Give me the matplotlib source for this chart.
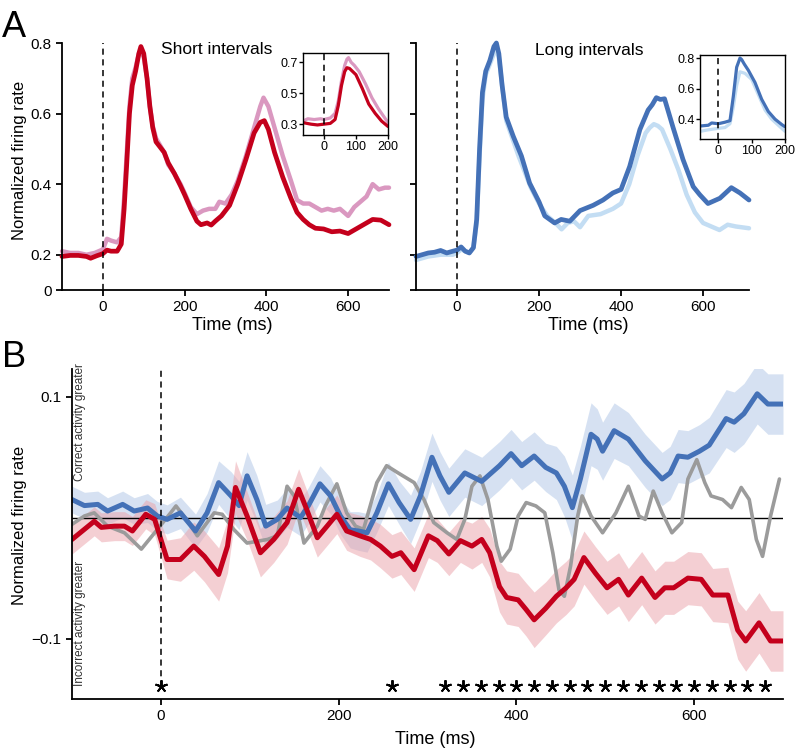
import numpy as np
import matplotlib
matplotlib.use('Agg')
from matplotlib import pyplot as plt

plt.rcParams['font.family'] = ['Liberation Sans', 'DejaVu Sans']
plt.rcParams['lines.solid_joinstyle'] = 'round'
plt.rcParams['lines.solid_capstyle'] = 'round'

# ---- panel A, short intervals ----
short_red_t = [-100, -80, -60, -40, -30, -15, 0, 10, 20, 35, 45, 52, 58, 65, 72, 80, 88, 93, 100, 108,
               115, 122, 130, 140, 150, 160, 175, 190, 200, 215, 230, 240, 255, 265, 275, 290, 310, 330,
               350, 370, 385, 395, 405, 420, 440, 460, 475, 490, 505, 520, 540, 560, 580, 600, 615, 630,
               645, 660, 680, 700]
short_red_v = [0.195, 0.198, 0.198, 0.195, 0.19, 0.197, 0.203, 0.213, 0.21, 0.21, 0.23, 0.33, 0.45, 0.60,
               0.68, 0.72, 0.77, 0.79, 0.77, 0.70, 0.62, 0.56, 0.52, 0.505, 0.49, 0.46, 0.43, 0.395, 0.37,
               0.33, 0.295, 0.285, 0.29, 0.284, 0.295, 0.31, 0.34, 0.40, 0.47, 0.545, 0.575, 0.58, 0.555,
               0.49, 0.42, 0.36, 0.32, 0.30, 0.285, 0.275, 0.273, 0.265, 0.267, 0.26, 0.27, 0.28, 0.29,
               0.30, 0.298, 0.285]
short_pink_t = [-100, -80, -60, -40, -20, 0, 10, 20, 35, 45, 52, 58, 65, 72, 80, 88, 93, 100, 108, 115,
                122, 130, 140, 150, 160, 175, 190, 200, 215, 230, 245, 260, 275, 285, 300, 315, 330, 350,
                370, 385, 393, 405, 420, 440, 460, 475, 490, 505, 520, 535, 550, 565, 580, 600, 615, 630,
                645, 660, 675, 690, 700]
short_pink_v = [0.21, 0.205, 0.205, 0.20, 0.205, 0.215, 0.245, 0.24, 0.235, 0.25, 0.36, 0.48, 0.62, 0.70,
                0.73, 0.77, 0.78, 0.76, 0.70, 0.62, 0.565, 0.53, 0.51, 0.49, 0.455, 0.43, 0.40, 0.375,
                0.335, 0.315, 0.325, 0.33, 0.33, 0.35, 0.345, 0.37, 0.41, 0.48, 0.56, 0.62, 0.645, 0.62,
                0.56, 0.48, 0.41, 0.355, 0.345, 0.345, 0.335, 0.325, 0.33, 0.325, 0.33, 0.31, 0.335,
                0.35, 0.365, 0.40, 0.385, 0.39, 0.39]

# ---- panel A, long intervals ----
long_blue_t = [-100, -85, -70, -55, -40, -25, -10, 0, 10, 20, 30, 40, 48, 55, 62, 70, 80, 90, 96, 102,
               110, 120, 137, 157, 177, 200, 214, 238, 254, 275, 300, 332, 356, 380, 400, 421, 446, 466,
               476, 486, 496, 506, 527, 551, 576, 592, 612, 641, 669, 690, 712]
long_blue_v = [0.195, 0.20, 0.205, 0.207, 0.212, 0.205, 0.21, 0.213, 0.222, 0.21, 0.205, 0.22, 0.30, 0.50,
               0.66, 0.72, 0.75, 0.79, 0.80, 0.77, 0.68, 0.59, 0.536, 0.48, 0.403, 0.35, 0.31, 0.29, 0.30,
               0.295, 0.325, 0.34, 0.355, 0.375, 0.385, 0.45, 0.555, 0.61, 0.625, 0.645, 0.64, 0.642,
               0.56, 0.47, 0.393, 0.37, 0.345, 0.36, 0.39, 0.375, 0.355]
long_light_t = [-100, -70, -40, -10, 0, 10, 20, 30, 40, 48, 55, 62, 70, 80, 90, 96, 102, 110, 120, 150,
                180, 200, 220, 240, 255, 270, 285, 300, 320, 350, 380, 400, 420, 440, 460, 470, 480, 490,
                500, 520, 540, 560, 580, 600, 620, 640, 660, 680, 712]
long_light_v = [0.185, 0.195, 0.20, 0.20, 0.205, 0.215, 0.21, 0.205, 0.22, 0.29, 0.48, 0.64, 0.71, 0.74,
                0.77, 0.78, 0.76, 0.68, 0.58, 0.48, 0.39, 0.345, 0.31, 0.29, 0.272, 0.29, 0.295, 0.278,
                0.31, 0.315, 0.33, 0.345, 0.40, 0.48, 0.545, 0.56, 0.57, 0.565, 0.555, 0.50, 0.44, 0.37,
                0.32, 0.29, 0.28, 0.27, 0.285, 0.28, 0.275]

# ---- insets ----
in_short_red_t = [-65, -40, -20, 0, 20, 35, 45, 55, 65, 72, 80, 90, 100, 120, 140, 160, 180, 200]
in_short_red_v = [0.31, 0.30, 0.295, 0.30, 0.305, 0.33, 0.42, 0.55, 0.64, 0.665, 0.66, 0.64, 0.62, 0.53,
                  0.43, 0.37, 0.32, 0.285]
in_short_pink_t = [-65, -50, -30, -10, 0, 20, 35, 45, 55, 65, 72, 77, 85, 95, 110, 130, 150, 170, 190, 200]
in_short_pink_v = [0.32, 0.335, 0.33, 0.335, 0.33, 0.34, 0.37, 0.45, 0.58, 0.68, 0.72, 0.73, 0.70, 0.68,
                   0.64, 0.56, 0.47, 0.40, 0.34, 0.31]
in_long_blue_t = [-55, -30, -20, 0, 20, 35, 45, 55, 65, 70, 78, 90, 110, 130, 150, 170, 190, 200]
in_long_blue_v = [0.355, 0.36, 0.375, 0.37, 0.38, 0.39, 0.55, 0.74, 0.80, 0.79, 0.76, 0.72, 0.64, 0.53,
                  0.45, 0.40, 0.365, 0.35]
in_long_light_t = [-55, -30, 0, 20, 35, 45, 55, 65, 80, 100, 120, 140, 160, 180, 200]
in_long_light_v = [0.32, 0.33, 0.34, 0.345, 0.37, 0.48, 0.62, 0.71, 0.70, 0.66, 0.56, 0.46, 0.40, 0.36, 0.32]

# ---- panel B ----
b_blue_t = [-100, -86, -71, -60, -43, -30, -15, -4, 7, 22, 39, 52, 65, 79, 88, 97, 108, 118, 131, 142,
            157, 166, 179, 191, 202, 213, 222, 232, 243, 256, 268, 281, 292, 305, 314, 324, 342, 361, 381,
            394, 406, 420, 433, 445, 454, 463, 472, 484, 491, 497, 510, 526, 545, 564, 573, 582, 593, 606,
            617, 636, 645, 656, 671, 683, 700]
b_blue_v = [0.015, 0.010, 0.011, 0.0055, 0.011, 0.0055, 0.008, 0.0014, -0.0014, 0.004, -0.011, 0.004,
            0.029, 0.018, 0.010, 0.0346, 0.015, -0.007, -0.0014, 0.008, 0.0, 0.010, 0.028, 0.018, 0.0014,
            -0.010, -0.011, -0.0125, 0.004, 0.028, 0.0125, -0.0014, 0.018, 0.050, 0.0346, 0.021, 0.037,
            0.030, 0.043, 0.053, 0.043, 0.051, 0.0416, 0.037, 0.026, 0.0083, 0.032, 0.069, 0.065, 0.055,
            0.072, 0.065, 0.047, 0.032, 0.037, 0.051, 0.050, 0.055, 0.060, 0.082, 0.079, 0.086, 0.1025,
            0.094, 0.094]
b_blue_sem = [0.011, 0.011, 0.011, 0.011, 0.011, 0.011, 0.012, 0.012, 0.012, 0.013, 0.014, 0.016,
              0.018, 0.02, 0.02, 0.02, 0.02, 0.018, 0.016, 0.016, 0.015, 0.015, 0.015, 0.015, 0.015,
              0.015, 0.016, 0.016, 0.016, 0.018, 0.018, 0.02, 0.02, 0.02, 0.02, 0.02, 0.02, 0.02, 0.02,
              0.02, 0.02, 0.02, 0.02, 0.022, 0.025, 0.027, 0.027, 0.026, 0.025, 0.024, 0.023, 0.022,
              0.022, 0.022, 0.022, 0.022, 0.022, 0.022, 0.023, 0.024, 0.025, 0.025, 0.025, 0.025, 0.025]
b_red_t = [-100, -75, -67, -52, -41, -32, -17, -7, 0, 7, 22, 37, 49, 65, 75, 84, 97, 112, 127, 142,
           155, 164, 176, 187, 198, 209, 224, 236, 247, 260, 270, 285, 301, 311, 324, 337, 350, 361, 370,
           381, 389, 402, 411, 420, 433, 445, 456, 465, 476, 489, 502, 515, 526, 541, 556, 567, 577, 593,
           608, 621, 638, 649, 658, 673, 686, 700]
b_red_v = [-0.018, -0.003, -0.008, -0.007, -0.007, -0.011, 0.0028, -0.0014, -0.018, -0.0346, -0.0346,
           -0.0235, -0.032, -0.047, -0.0235, 0.025, 0.0014, -0.029, -0.018, -0.004, 0.0235, 0.007,
           -0.0166, -0.007, 0.0028, -0.011, -0.015, -0.018, -0.0235, -0.032, -0.029, -0.043, -0.015,
           -0.019, -0.030, -0.019, -0.0235, -0.018, -0.029, -0.057, -0.066, -0.068, -0.076, -0.0845,
           -0.075, -0.065, -0.058, -0.051, -0.033, -0.046, -0.058, -0.051, -0.064, -0.050, -0.066,
           -0.058, -0.058, -0.050, -0.051, -0.064, -0.064, -0.093, -0.102, -0.087, -0.102, -0.102]
b_red_sem = [0.012, 0.012, 0.012, 0.012, 0.012, 0.012, 0.012, 0.013, 0.014, 0.016, 0.018, 0.02, 0.021,
             0.022, 0.022, 0.022, 0.02, 0.02, 0.019, 0.018, 0.017, 0.016, 0.016, 0.016, 0.016, 0.016,
             0.017, 0.017, 0.018, 0.018, 0.018, 0.018, 0.018, 0.018, 0.018, 0.018, 0.019, 0.019, 0.02,
             0.021, 0.022, 0.022, 0.022, 0.023, 0.022, 0.022, 0.022, 0.022, 0.022, 0.022, 0.022, 0.022,
             0.022, 0.022, 0.022, 0.022, 0.022, 0.022, 0.022, 0.022, 0.023, 0.024, 0.025, 0.025, 0.025,
             0.025]
b_gray_t = [-100, -86, -75, -60, -41, -22, -7, 11, 17, 30, 41, 60, 69, 82, 97, 120, 131, 142, 150, 161,
            176, 185, 198, 209, 219, 228, 243, 254, 267, 285, 296, 307, 322, 333, 342, 350, 359, 368, 378,
            383, 393, 402, 411, 422, 432, 441, 448, 454, 461, 469, 474, 484, 497, 512, 526, 538, 545, 554,
            564, 575, 586, 593, 603, 612, 619, 632, 642, 653, 662, 670, 677, 686, 696]
b_gray_v = [-0.0055, 0.0014, 0.004, -0.007, -0.0125, -0.026, -0.0125, 0.004, 0.0097, -0.0028, -0.015,
            0.004, 0.0028, -0.0097, -0.021, -0.018, -0.015, 0.026, 0.018, -0.021, -0.007, 0.0097, 0.028,
            0.004, -0.007, -0.0097, 0.029, 0.043, 0.037, 0.029, 0.015, -0.004, -0.0125, -0.018, -0.0014,
            0.026, 0.0346, 0.015, -0.0235, -0.036, -0.026, 0.0014, 0.0125, 0.0097, 0.004, -0.029, -0.060,
            -0.065, -0.040, 0.0014, 0.018, 0.0014, -0.0125, 0.004, 0.026, 0.0014, -0.0014, 0.022, 0.004,
            -0.0125, -0.004, 0.032, 0.048, 0.029, 0.018, 0.015, 0.0083, 0.025, 0.015, -0.018, -0.032,
            0.0014, 0.032]
star_t = [0, 260, 320, 340, 360, 380, 400, 420, 440, 460, 480, 500, 520, 540, 560, 580, 600, 620, 640,
          660, 680]
star_y = -0.139

RED = '#C4001C'
PINK = '#DA98C0'
BLUE = '#4471B7'
LBLUE = '#C3DDF3'
GRAY = '#9B9B9B'

W, H = 799, 750
fig = plt.figure(figsize=(W / 100, H / 100), dpi=100)


def rect(x0, y0, x1, y1):
    return [x0 / W, 1 - y1 / H, (x1 - x0) / W, (y1 - y0) / H]


def style_main(ax):
    for s in ['top', 'right']:
        ax.spines[s].set_visible(False)
    for s in ['left', 'bottom']:
        ax.spines[s].set_linewidth(1.3)
    ax.tick_params(direction='out', length=4, width=1.3, labelsize=11)


# top left
ax1 = fig.add_axes(rect(62, 43, 389, 290))
ax1.plot(short_pink_t, short_pink_v, color=PINK, lw=3.2, clip_on=False)
ax1.plot(short_red_t, short_red_v, color=RED, lw=3.4, clip_on=False)
# top right
ax2 = fig.add_axes(rect(416, 43, 749, 290))
ax2.plot(long_light_t, long_light_v, color=LBLUE, lw=3.2, clip_on=False)
ax2.plot(long_blue_t, long_blue_v, color=BLUE, lw=3.4, clip_on=False)

for ax, xmax, lab in [(ax1, 700, True), (ax2, 712, False)]:
    style_main(ax)
    ax.set_xlim(-100, xmax)
    ax.set_ylim(0.1, 0.8)
    ax.set_xticks([0, 200, 400, 600])
    ax.set_yticks([0.1, 0.2, 0.4, 0.6, 0.8])
    if lab:
        ax.set_yticklabels(['0', '0.2', '0.4', '0.6', '0.8'])
    else:
        ax.set_yticklabels([])
    ax.axvline(0, color='k', lw=1.1, ls=(0, (4, 3)))

# insets
ins1 = fig.add_axes(rect(303, 53, 388, 135))
ins1.plot(in_short_pink_t, in_short_pink_v, color=PINK, lw=2.3)
ins1.plot(in_short_red_t, in_short_red_v, color=RED, lw=2.3)
ins1.set_xlim(-65, 200)
ins1.set_ylim(0.23, 0.76)
ins1.set_yticks([0.3, 0.5, 0.7])
ins2 = fig.add_axes(rect(700, 55, 785, 139))
ins2.plot(in_long_light_t, in_long_light_v, color=LBLUE, lw=2.3)
ins2.plot(in_long_blue_t, in_long_blue_v, color=BLUE, lw=2.3)
ins2.set_xlim(-55, 200)
ins2.set_ylim(0.27, 0.82)
ins2.set_yticks([0.4, 0.6, 0.8])
for ins in [ins1, ins2]:
    ins.set_xticks([0, 100, 200])
    ins.axvline(0, color='k', lw=1.1, ls=(0, (4, 3)))
    ins.tick_params(direction='out', length=3, width=1, labelsize=9, pad=1)
    for s in ins.spines.values():
        s.set_linewidth(1)
    ins.set_facecolor('white')

# bottom panel
axb = fig.add_axes(rect(72, 369, 783, 699))
style_main(axb)
bt = np.array(b_blue_t)
bv = np.array(b_blue_v)
bs = np.array(b_blue_sem)
rt = np.array(b_red_t)
rv = np.array(b_red_v)
rs = np.array(b_red_sem)
axb.fill_between(bt, bv - bs, bv + bs, color='#B5CAE8', alpha=0.55, lw=0)
axb.fill_between(rt, rv - rs, rv + rs, color='#EBA0A8', alpha=0.5, lw=0)
axb.axhline(0, color='k', lw=1)
axb.plot(b_gray_t, b_gray_v, color=GRAY, lw=2.6)
axb.plot(b_blue_t, b_blue_v, color=BLUE, lw=3.6)
axb.plot(b_red_t, b_red_v, color=RED, lw=3.6)
axb.plot([0, 0], [-0.14, 0.123], color='k', lw=1.1, ls=(0, (4, 3)), solid_capstyle='butt')
axb.plot(star_t, [star_y] * len(star_t), ls='none', marker=(5, 2, 0), ms=9, mew=1.4, color='k')
axb.set_xlim(-100, 700)
axb.set_ylim(-0.15, 0.123)
axb.set_xticks([0, 200, 400, 600])
axb.set_yticks([-0.1, 0.1])
axb.set_yticklabels(['\u22120.1', '0.1'])

# texts
fig.text(2 / W, 1 - 37 / H, 'A', fontsize=26, va='baseline')
fig.text(2 / W, 1 - 367 / H, 'B', fontsize=26, va='baseline')
fig.text(217 / W, 1 - 50 / H, 'Short intervals', fontsize=12.5, ha='center', va='center')
fig.text(589 / W, 1 - 50 / H, 'Long intervals', fontsize=12.5, ha='center', va='center')
fig.text(20 / W, 1 - 160 / H, 'Normalized firing rate', fontsize=12, rotation=90,
         ha='center', va='center')
fig.text(20 / W, 1 - 525 / H, 'Normalized firing rate', fontsize=12, rotation=90,
         ha='center', va='center')
fig.text(232 / W, 1 - 325 / H, 'Time (ms)', fontsize=13, ha='center', va='center')
fig.text(588 / W, 1 - 325 / H, 'Time (ms)', fontsize=13, ha='center', va='center')
fig.text(435 / W, 1 - 740 / H, 'Time (ms)', fontsize=13, ha='center', va='center')
fig.text(80 / W, 1 - 422 / H, 'Correct activity greater', fontsize=8.5, rotation=90,
         ha='center', va='center', color='#333333')
fig.text(80 / W, 1 - 623 / H, 'Incorrect activity greater', fontsize=8.5, rotation=90,
         ha='center', va='center', color='#333333')

fig.savefig('out.png', dpi=100)
